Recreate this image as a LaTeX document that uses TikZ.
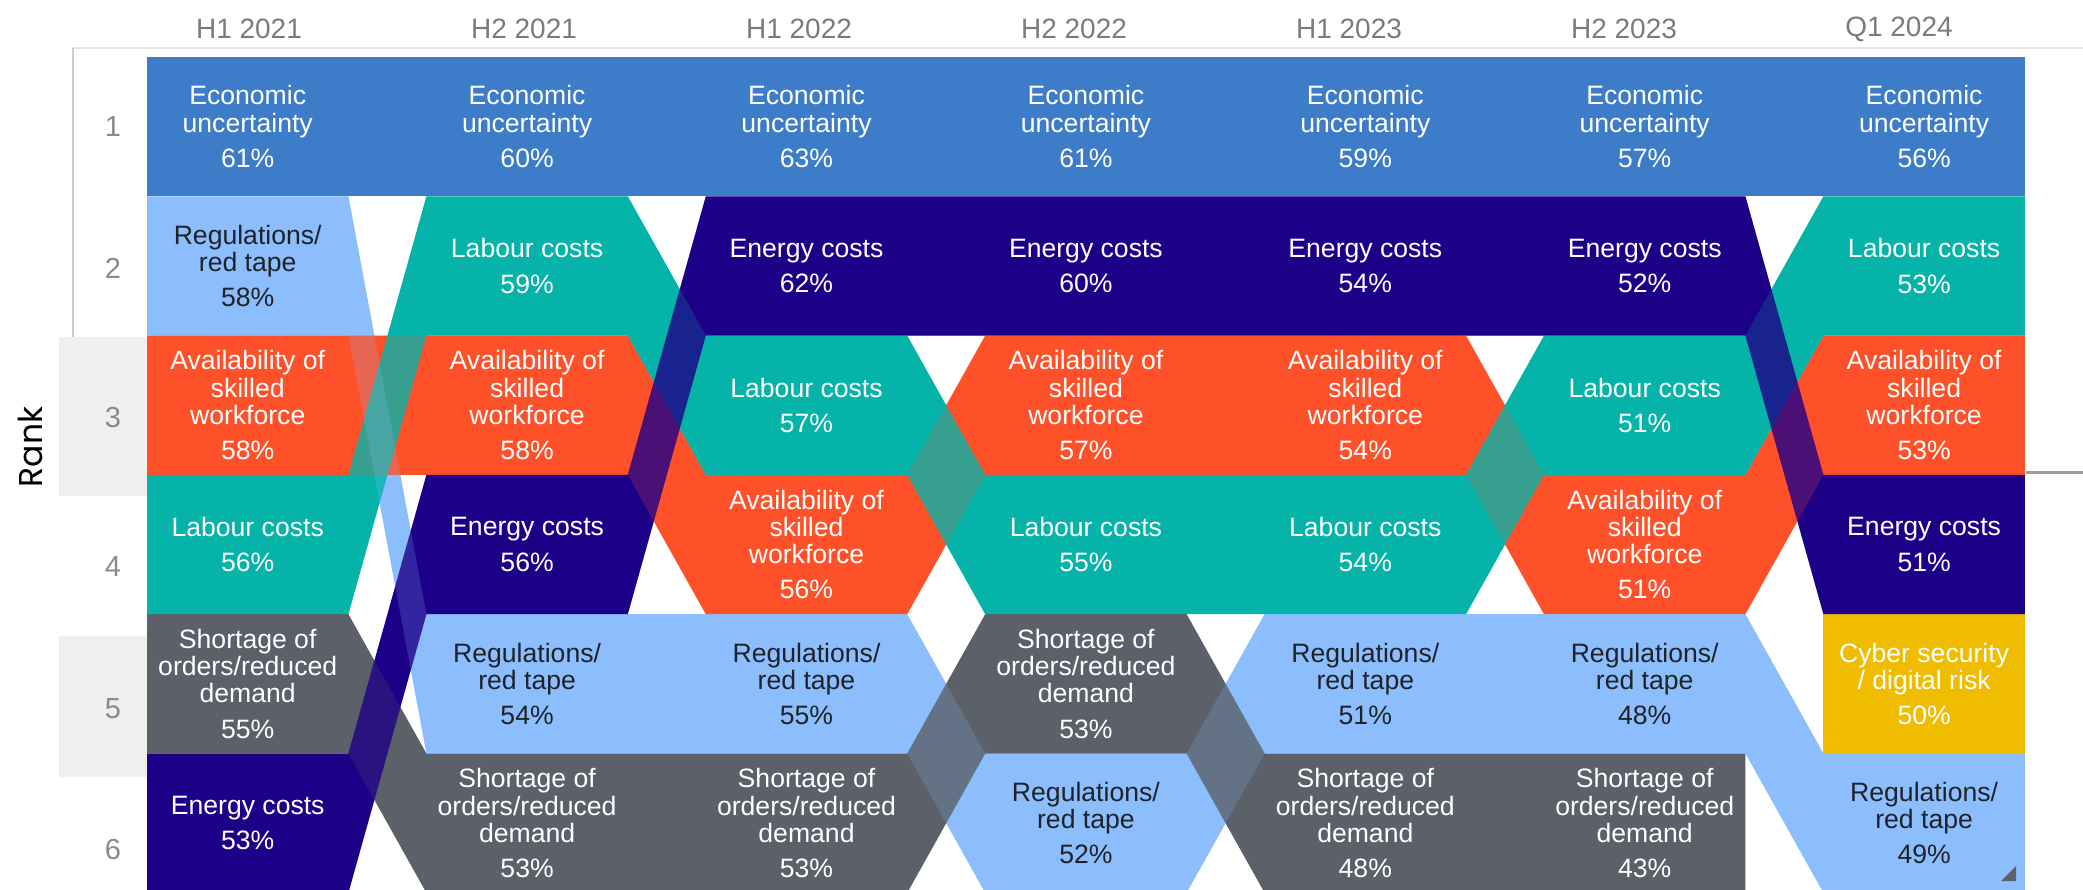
\documentclass[tikz,border=0pt]{standalone}
\usepackage{fontspec}
\setmainfont{Liberation Sans}
\newfontfamily\poppins{Poppins}
\definecolor{econ}{HTML}{3D7CC9}
\definecolor{regc}{HTML}{8CBDFC}
\definecolor{labc}{HTML}{05B3A9}
\definecolor{avac}{HTML}{FE5129}
\definecolor{enec}{HTML}{1D0088}
\definecolor{shoc}{HTML}{5B6069}
\definecolor{cybc}{HTML}{EFBC00}
\definecolor{regtext}{HTML}{1F2329}
\definecolor{bgbox}{HTML}{F0EFEE}
\definecolor{hdrc}{HTML}{7B7B7B}
\definecolor{rkc}{HTML}{8A8A8A}
\tikzset{
  declare function={
    xl(\x)=147+279.4*\x; xr(\x)=348.4+279.4*\x; xc(\x)=247.7+279.4*\x;
    yt(\x)=57+139.3*(\x-1); yb(\x)=57+139.3*\x; yc(\x)=57+139.3*(\x-0.5);},
  lab/.style={align=center, text=white, font=\fontsize{13.3}{13.6}\selectfont, inner sep=0pt},
  labd/.style={lab, text=regtext},
  hdr/.style={text=hdrc, font=\fontsize{14}{16}\selectfont, inner sep=0pt},
  rkl/.style={text=rkc, font=\fontsize{14.5}{16}\selectfont, inner sep=0pt},
  blend/.style={fill=#1, fill opacity=0.2},
}
\def\regF{0/2,1/5,2/5,3/6,4/5,5/5,6/6}
\def\regR{6/6,5/5,4/5,3/6,2/5,1/5,0/2}
\def\shoF{0/5,1/6,2/6,3/5,4/6,5/6}
\def\shoR{5/6,4/6,3/5,2/6,1/6,0/5}
\def\avaF{0/3,1/3,2/4,3/3,4/3,5/4,6/3}
\def\avaR{6/3,5/4,4/3,3/3,2/4,1/3,0/3}
\def\labF{0/4,1/2,2/3,3/4,4/4,5/3,6/2}
\def\labR{6/2,5/3,4/4,3/4,2/3,1/2,0/4}
\def\eneF{0/6,1/4,2/2,3/2,4/2,5/2,6/4}
\def\eneR{6/4,5/2,4/2,3/2,2/2,1/4,0/6}
\newcommand\bandfill[5]{%
  \path[#1] ({xl(#2)},{yt(#3)})
    \foreach \ci/\rk in #4 { -- ({xl(\ci)},{yt(\rk)}) -- ({xr(\ci)},{yt(\rk)}) }
    \foreach \ci/\rk in #5 { -- ({xr(\ci)},{yb(\rk)}) -- ({xl(\ci)},{yb(\rk)}) }
    -- cycle;}
\newcommand\cell[5][lab]{\node[#1] (c#2r#3) at ({xc(#2)},{yc(#3)}) {#4\\[4pt]#5};}
\begin{document}
\begin{tikzpicture}[x=0.5pt,y=-0.5pt]
\useasboundingbox (0,0) rectangle (2083,889);
\clip (0,0) rectangle (2083,889);
% panel frame and rank background boxes
\draw[color=black!10, line width=0.75pt] (73,48) -- (2083,48);
\draw[color=black!20, line width=1pt] (73,48) -- (73,337);
\draw[color=black!38, line width=1.5pt] (2026,472) -- (2083,472);
\fill[bgbox] (59,337) rectangle (148,496);
\fill[bgbox] (59,636) rectangle (148,777);
% bands, opaque pass (bottom to top)
\fill[econ] ({xl(0)},{yt(1)}) rectangle ({xr(6)},{yb(1)});
\fill[cybc] ({xl(6)},{yt(5)}) rectangle ({xr(6)},{yb(5)});
\bandfill{fill=regc}{0}{2}{\regF}{\regR}
\bandfill{fill=shoc}{0}{5}{\shoF}{\shoR}
\bandfill{fill=avac}{0}{3}{\avaF}{\avaR}
\bandfill{fill=labc}{0}{4}{\labF}{\labR}
\bandfill{fill=enec}{0}{6}{\eneF}{\eneR}
% see-through pass (top to bottom)
\bandfill{blend=enec}{0}{6}{\eneF}{\eneR}
\bandfill{blend=labc}{0}{4}{\labF}{\labR}
\bandfill{blend=avac}{0}{3}{\avaF}{\avaR}
\bandfill{blend=shoc}{0}{5}{\shoF}{\shoR}
\bandfill{blend=regc}{0}{2}{\regF}{\regR}
% resize handle
\fill[shoc] (2016,866) -- (2016,881) -- (2001,881) -- cycle;
% headers
\foreach \t [count=\k from 0] in {H1 2021,H2 2021,H1 2022,H2 2022,H1 2023,H2 2023,Q1 2024}
  \node[hdr] (h\k) at ({249+275*\k},29) {\t};
% rank labels
\node[rkl] (k1) at (113,127) {1};
\node[rkl] (k2) at (113,268) {2};
\node[rkl] (k3) at (113,418) {3};
\node[rkl] (k4) at (113,567) {4};
\node[rkl] (k5) at (113,709) {5};
\node[rkl] (k6) at (113,850) {6};
\node[rotate=90, font=\poppins\fontsize{16.5}{18}\selectfont, inner sep=0pt] (rank) at (30,447) {Rank};
% column H1 2021
\cell{0}{1}{Economic\\uncertainty}{61\%}
\cell[labd]{0}{2}{Regulations/\\red tape}{58\%}
\cell{0}{3}{Availability of\\skilled\\workforce}{58\%}
\cell{0}{4}{Labour costs}{56\%}
\cell{0}{5}{Shortage of\\orders/reduced\\demand}{55\%}
\cell{0}{6}{Energy costs}{53\%}
% column H2 2021
\cell{1}{1}{Economic\\uncertainty}{60\%}
\cell{1}{2}{Labour costs}{59\%}
\cell{1}{3}{Availability of\\skilled\\workforce}{58\%}
\cell{1}{4}{Energy costs}{56\%}
\cell[labd]{1}{5}{Regulations/\\red tape}{54\%}
\cell{1}{6}{Shortage of\\orders/reduced\\demand}{53\%}
% column H1 2022
\cell{2}{1}{Economic\\uncertainty}{63\%}
\cell{2}{2}{Energy costs}{62\%}
\cell{2}{3}{Labour costs}{57\%}
\cell{2}{4}{Availability of\\skilled\\workforce}{56\%}
\cell[labd]{2}{5}{Regulations/\\red tape}{55\%}
\cell{2}{6}{Shortage of\\orders/reduced\\demand}{53\%}
% column H2 2022
\cell{3}{1}{Economic\\uncertainty}{61\%}
\cell{3}{2}{Energy costs}{60\%}
\cell{3}{3}{Availability of\\skilled\\workforce}{57\%}
\cell{3}{4}{Labour costs}{55\%}
\cell{3}{5}{Shortage of\\orders/reduced\\demand}{53\%}
\cell[labd]{3}{6}{Regulations/\\red tape}{52\%}
% column H1 2023
\cell{4}{1}{Economic\\uncertainty}{59\%}
\cell{4}{2}{Energy costs}{54\%}
\cell{4}{3}{Availability of\\skilled\\workforce}{54\%}
\cell{4}{4}{Labour costs}{54\%}
\cell[labd]{4}{5}{Regulations/\\red tape}{51\%}
\cell{4}{6}{Shortage of\\orders/reduced\\demand}{48\%}
% column H2 2023
\cell{5}{1}{Economic\\uncertainty}{57\%}
\cell{5}{2}{Energy costs}{52\%}
\cell{5}{3}{Labour costs}{51\%}
\cell{5}{4}{Availability of\\skilled\\workforce}{51\%}
\cell[labd]{5}{5}{Regulations/\\red tape}{48\%}
\cell{5}{6}{Shortage of\\orders/reduced\\demand}{43\%}
% column Q1 2024
\cell{6}{1}{Economic\\uncertainty}{56\%}
\cell{6}{2}{Labour costs}{53\%}
\cell{6}{3}{Availability of\\skilled\\workforce}{53\%}
\cell{6}{4}{Energy costs}{51\%}
\cell{6}{5}{Cyber security\\/ digital risk}{50\%}
\cell[labd]{6}{6}{Regulations/\\red tape}{49\%}
\end{tikzpicture}
\end{document}
